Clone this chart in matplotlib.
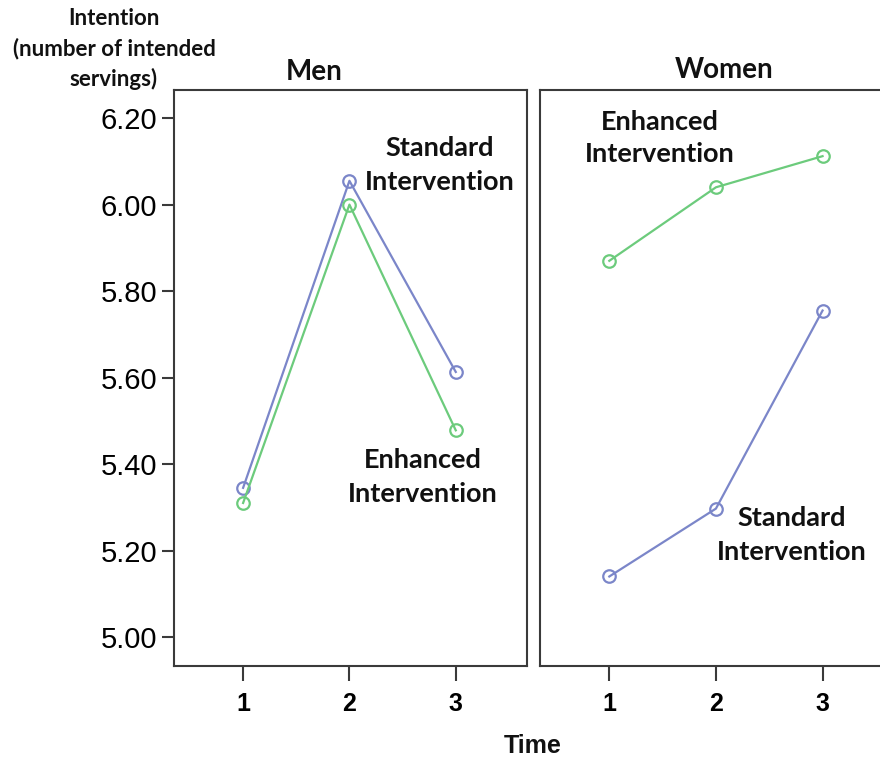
import matplotlib
matplotlib.use("Agg")
import matplotlib.pyplot as plt

time_points = [1, 2, 3]
men_standard = [5.345, 6.055, 5.613]
men_enhanced = [5.310, 6.000, 5.478]
women_enhanced = [5.870, 6.040, 6.112]
women_standard = [5.140, 5.297, 5.755]
y_ticks = [5.00, 5.20, 5.40, 5.60, 5.80, 6.00, 6.20]

W, H = 880, 760
fig = plt.figure(figsize=(8.8, 7.6), dpi=100)

def px_rect(x0, y0, x1, y1):
    return [x0 / W, 1 - y1 / H, (x1 - x0) / W, (y1 - y0) / H]

blue = "#7b86c9"
green = "#6ccb7c"
spine_c = "#3a3a3a"

ax1 = fig.add_axes(px_rect(174, 90, 527, 666))
ax2 = fig.add_axes(px_rect(540, 90, 894, 666))

for ax, s, e in [(ax1, men_standard, men_enhanced), (ax2, women_standard, women_enhanced)]:
    ax.plot(time_points, s, color=blue, lw=1.6, marker="o", ms=9, mfc="none", mec=blue, mew=1.6)
    ax.plot(time_points, e, color=green, lw=1.6, marker="o", ms=9, mfc="none", mec=green, mew=1.6)
    ax.set_xlim(0.35, 3.67)
    ax.set_ylim(4.933, 6.265)
    ax.set_xticks(time_points)
    ax.set_xticklabels([str(t) for t in time_points], fontsize=18, weight="bold",
                       family="Liberation Sans")
    for sp in ax.spines.values():
        sp.set_color(spine_c)
        sp.set_linewidth(1.5)
    ax.tick_params(axis="x", length=11, width=1.5, color=spine_c, pad=8)

ax1.set_yticks(y_ticks)
ax1.set_yticklabels([f"{v:.2f}" for v in y_ticks], fontsize=21, family="Liberation Sans")
ax1.tick_params(axis="y", length=9, width=1.5, color=spine_c, pad=3)
ax2.set_yticks([])

def ftext(x, y, s, **kw):
    fig.text(x / W, 1 - y / H, s, ha="center", va="center", **kw)

lbl = dict(family="Lato", weight="bold", fontsize=19.5, linespacing=1.45, color="#111111")
ftext(440, 165, "Standard\nIntervention", **lbl)
ftext(423, 477, "Enhanced\nIntervention", **lbl)
ftext(660, 138, "Enhanced\nIntervention", **lbl)
ftext(792, 535, "Standard\nIntervention", **lbl)

ftext(314, 72, "Men", family="Lato", weight="bold", fontsize=20, color="#111111")
ftext(724, 70, "Women", family="Lato", weight="bold", fontsize=20, color="#111111")
ftext(114, 49, "Intention\n(number of intended\nservings)", family="Lato", weight="bold",
      fontsize=16, linespacing=1.5, color="#111111")
ftext(533, 746, "Time", family="Liberation Sans", weight="bold", fontsize=18, color="#111111")

fig.savefig("out.png", dpi=100)
